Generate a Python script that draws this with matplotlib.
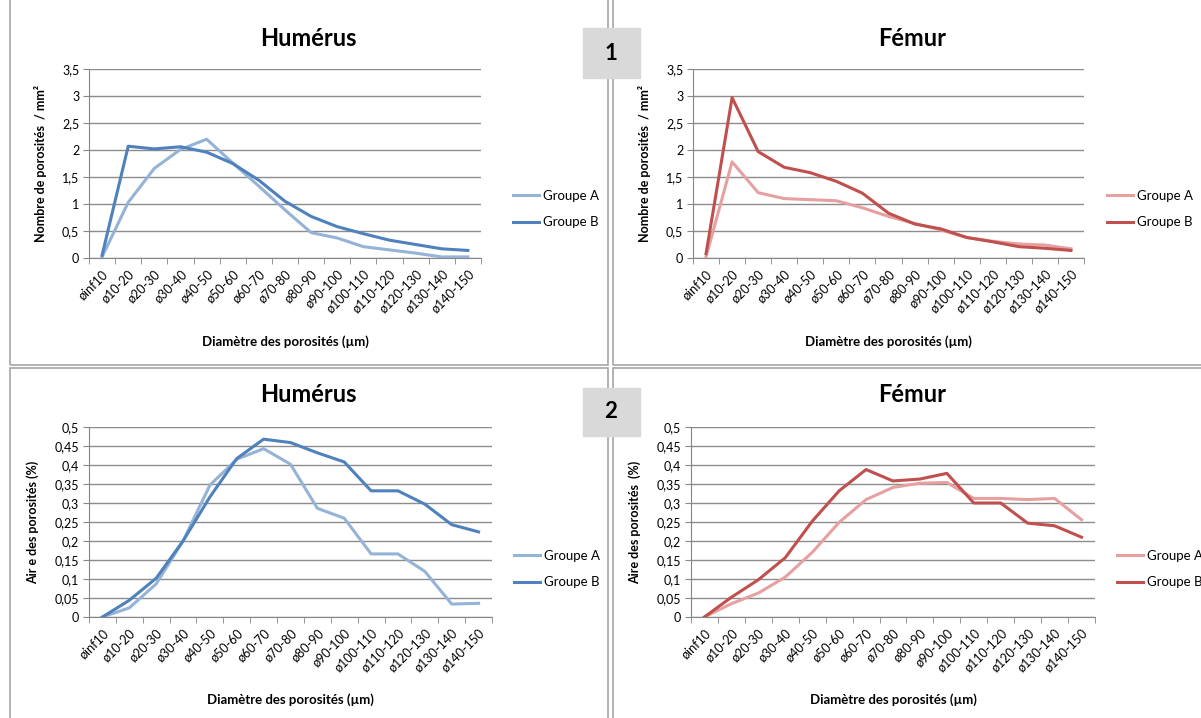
import matplotlib.pyplot as plt
import matplotlib.patches as patches
import numpy as np

plt.rcParams['font.family'] = ['Lato', 'DejaVu Sans']

categories = ["øinf10", "ø10-20", "ø20-30", "ø30-40", "ø40-50", "ø50-60", "ø60-70", "ø70-80",
              "ø80-90", "ø90-100", "ø100-110", "ø110-120", "ø120-130", "ø130-140", "ø140-150"]

# nombre de porosites / mm2
hum_nb_a = [0.02, 1.03, 1.66, 2.01, 2.20, 1.76, 1.33, 0.89, 0.47, 0.37, 0.21, 0.15, 0.09, 0.02, 0.02]
hum_nb_b = [0.05, 2.07, 2.02, 2.06, 1.96, 1.75, 1.44, 1.05, 0.77, 0.58, 0.45, 0.33, 0.25, 0.17, 0.14]
fem_nb_a = [0.02, 1.78, 1.21, 1.10, 1.08, 1.06, 0.93, 0.77, 0.64, 0.52, 0.38, 0.31, 0.26, 0.24, 0.17]
fem_nb_b = [0.08, 2.97, 1.97, 1.68, 1.58, 1.42, 1.20, 0.83, 0.63, 0.54, 0.38, 0.30, 0.21, 0.18, 0.14]

# aire des porosites (%)
hum_aire_a = [0.0, 0.024, 0.087, 0.200, 0.347, 0.415, 0.443, 0.402, 0.286, 0.260, 0.166, 0.166, 0.120, 0.034, 0.036]
hum_aire_b = [0.0, 0.044, 0.102, 0.200, 0.316, 0.417, 0.468, 0.459, 0.432, 0.408, 0.332, 0.332, 0.297, 0.243, 0.224]
fem_aire_a = [0.0, 0.035, 0.063, 0.105, 0.170, 0.249, 0.309, 0.341, 0.352, 0.354, 0.312, 0.312, 0.309, 0.312, 0.256]
fem_aire_b = [0.0, 0.052, 0.098, 0.156, 0.252, 0.332, 0.388, 0.358, 0.363, 0.378, 0.300, 0.300, 0.247, 0.240, 0.210]

nb_ticks = [0, 0.5, 1, 1.5, 2, 2.5, 3, 3.5]
nb_labels = ["0", "0,5", "1", "1,5", "2", "2,5", "3", "3,5"]
aire_ticks = [0, 0.05, 0.1, 0.15, 0.2, 0.25, 0.3, 0.35, 0.4, 0.45, 0.5]
aire_labels = ["0", "0,05", "0,1", "0,15", "0,2", "0,25", "0,3", "0,35", "0,4", "0,45", "0,5"]

W, H = 1201, 718
fig = plt.figure(figsize=(W / 100, H / 100), dpi=100)


def px_axes(x0, y0, x1, y1):
    # pixel box (top-left origin) -> figure fraction
    return fig.add_axes([x0 / W, 1 - y1 / H, (x1 - x0) / W, (y1 - y0) / H])


# panel frames
for (x0, y0, x1, y1) in [(10, -2, 608, 365), (613, -2, 1203, 365), (10, 368, 608, 720), (613, 368, 1203, 720)]:
    fig.patches.append(patches.Rectangle((x0 / W, 1 - y1 / H), (x1 - x0) / W, (y1 - y0) / H,
                                         transform=fig.transFigure, fill=False,
                                         edgecolor='#a6a6a6', linewidth=1.2))

# number boxes
for (y0, y1, num) in [(28, 78, "1"), (388, 436, "2")]:
    fig.patches.append(patches.Rectangle((583 / W, 1 - y1 / H), 57 / W, (y1 - y0) / H,
                                         transform=fig.transFigure, color='#d9d9d9', zorder=5))
    fig.text(611 / W, 1 - (y0 + y1) / 2 / H, num, ha='center', va='center',
             fontsize=16, fontweight='bold', zorder=6)

panels = [
    ((89, 69, 481, 258), "Humérus", hum_nb_a, hum_nb_b, '#95b3d7', '#4f81bd',
     nb_ticks, nb_labels, 3.5, "Nombre de porosités  / mm²", 308, 38, 513, 209, 342),
    ((693, 69, 1084, 258), "Fémur", fem_nb_a, fem_nb_b, '#e6a0a0', '#c0504d',
     nb_ticks, nb_labels, 3.5, "Nombre de porosités  / mm²", 912, 38, 1107, 209, 342),
    ((89, 427, 492, 617), "Humérus", hum_aire_a, hum_aire_b, '#95b3d7', '#4f81bd',
     aire_ticks, aire_labels, 0.5, "Air e des porosités (%)", 308, 395, 514, 569, 700),
    ((691, 427, 1095, 617), "Fémur", fem_aire_a, fem_aire_b, '#e6a0a0', '#c0504d',
     aire_ticks, aire_labels, 0.5, "Aire des porosités  (%)", 912, 395, 1117, 569, 700),
]

x = np.arange(len(categories))
for box, title, ya, yb, ca, cb, ticks, labels, ymax, ylab, tx, ty, lx, ly, xly in panels:
    ax = px_axes(*box)
    ax.plot(x, ya, color=ca, linewidth=2.2, label="Groupe A", zorder=3)
    ax.plot(x, yb, color=cb, linewidth=2.2, label="Groupe B", zorder=3)
    ax.set_xlim(-0.5, len(categories) - 0.5)
    ax.set_ylim(0, ymax)
    ax.set_yticks(ticks)
    ax.set_yticklabels(labels, fontsize=9)
    ax.set_xticks(x)
    ax.set_xticklabels(categories, rotation=45, ha='right', rotation_mode='anchor', fontsize=9)
    ax.set_xticks(np.arange(-0.5, len(categories)), minor=True)
    ax.tick_params(axis='x', which='major', length=0, pad=7)
    ax.tick_params(axis='x', which='minor', length=4, color='#868686', direction='out')
    ax.tick_params(axis='y', length=4, color='#868686', pad=3)
    ax.grid(axis='y', color='#8c8c8c', linewidth=1)
    ax.set_axisbelow(True)
    for s in ['top', 'right']:
        ax.spines[s].set_visible(False)
    for s in ['left', 'bottom']:
        ax.spines[s].set_color('#868686')
    ax.set_ylabel(ylab, fontsize=9, fontweight='bold', labelpad=11)
    fig.text(tx / W, 1 - ty / H, title, ha='center', va='center', fontsize=17, fontweight='bold')
    fig.text((box[0] + box[2]) / 2 / W, 1 - xly / H, "Diamètre des porosités (µm)",
             ha='center', va='center', fontsize=9.5, fontweight='bold')
    ax.legend(loc='center left', bbox_to_anchor=(lx / W, 1 - ly / H), bbox_transform=fig.transFigure,
              frameon=False, fontsize=9.5, borderaxespad=0, borderpad=0,
              handlelength=2.0, labelspacing=1.1, handletextpad=0.3)

plt.savefig("out.png", dpi=100)
